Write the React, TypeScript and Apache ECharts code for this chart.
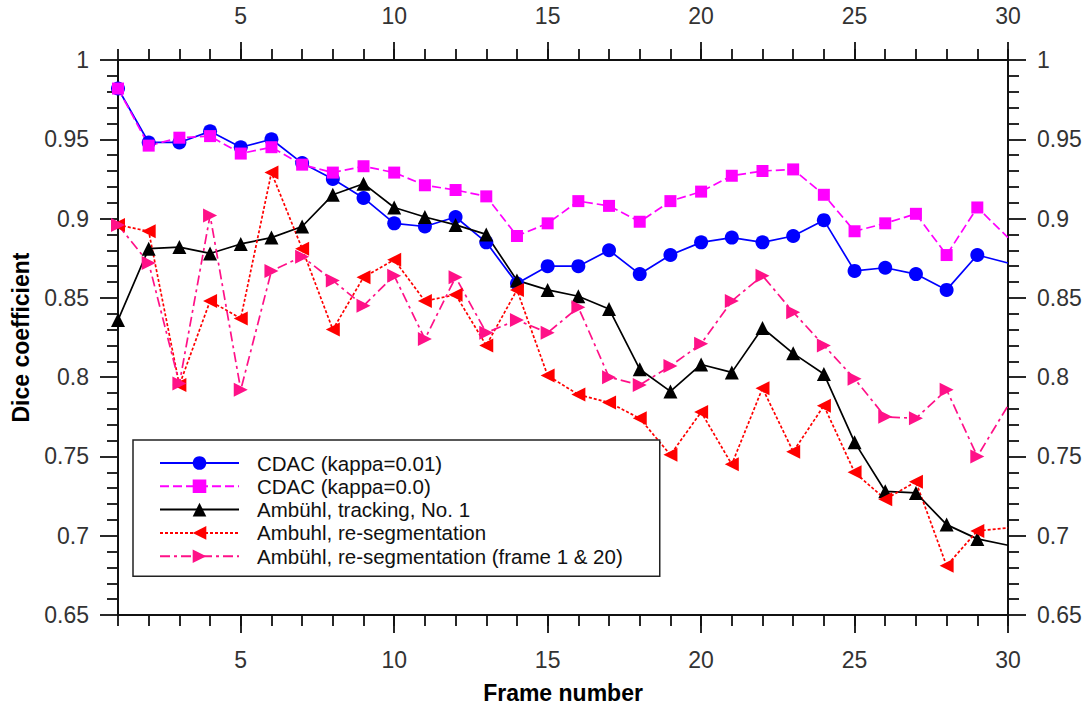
import React, { useEffect, useRef } from "react";
import * as echarts from "echarts";

const frames = [1, 2, 3, 4, 5, 6, 7, 8, 9, 10, 11, 12, 13, 14, 15, 16, 17, 18, 19, 20, 21, 22, 23, 24, 25, 26, 27, 28, 29, 30];
const majorX = [5, 10, 15, 20, 25, 30];

const cdac001 = [0.982, 0.948, 0.948, 0.955, 0.945, 0.950, 0.935, 0.925, 0.913, 0.897, 0.895, 0.901, 0.885, 0.859, 0.870, 0.870, 0.880, 0.865, 0.877, 0.885, 0.888, 0.885, 0.889, 0.899, 0.867, 0.869, 0.865, 0.855, 0.877, 0.872];
const cdac00 = [0.982, 0.946, 0.951, 0.952, 0.941, 0.945, 0.934, 0.929, 0.933, 0.929, 0.921, 0.918, 0.914, 0.889, 0.897, 0.911, 0.908, 0.898, 0.911, 0.917, 0.927, 0.930, 0.931, 0.915, 0.892, 0.897, 0.903, 0.877, 0.907, 0.888];
const tracking = [0.836, 0.881, 0.882, 0.878, 0.884, 0.888, 0.895, 0.915, 0.922, 0.907, 0.901, 0.896, 0.890, 0.861, 0.855, 0.851, 0.843, 0.805, 0.791, 0.808, 0.803, 0.831, 0.815, 0.802, 0.759, 0.728, 0.727, 0.707, 0.698, 0.694];
const reseg = [0.896, 0.892, 0.795, 0.848, 0.837, 0.929, 0.881, 0.830, 0.863, 0.874, 0.848, 0.852, 0.820, 0.855, 0.801, 0.789, 0.784, 0.774, 0.751, 0.778, 0.745, 0.793, 0.753, 0.782, 0.740, 0.723, 0.734, 0.681, 0.703, 0.705];
const reseg120 = [0.896, 0.872, 0.796, 0.902, 0.792, 0.867, 0.876, 0.861, 0.845, 0.864, 0.824, 0.863, 0.828, 0.836, 0.828, 0.844, 0.800, 0.795, 0.807, 0.821, 0.848, 0.864, 0.841, 0.820, 0.799, 0.775, 0.774, 0.792, 0.750, 0.782];

const names = [
  "CDAC (kappa=0.01)",
  "CDAC (kappa=0.0)",
  "Ambühl, tracking, No. 1",
  "Ambuhl, re-segmentation",
  "Ambühl, re-segmentation (frame 1 & 20)",
];

const FONT = "Arial, 'Liberation Sans', Helvetica, sans-serif";

function toData(vals: number[]) {
  return frames.map((f, i) =>
    i === frames.length - 1 ? { value: [f, vals[i]], symbol: "none" } : [f, vals[i]]
  );
}

export default function App() {
  const ref = useRef<HTMLDivElement>(null);
  useEffect(() => {
    if (!ref.current) return;
    const chart = echarts.init(ref.current, undefined, { renderer: "svg" });
    const axisLine = { show: true, lineStyle: { color: "#111", width: 2 } };
    const labelStyle = { fontSize: 23, color: "#333", fontFamily: FONT };
    const xMinor = (pos: string) => ({
      type: "value",
      position: pos,
      min: 1,
      max: 30,
      interval: 1,
      axisLine,
      axisTick: { show: true, inside: false, length: 11, lineStyle: { color: "#111", width: 1.8 } },
      axisLabel: { show: false },
      splitLine: { show: false },
    });
    const xMajor = (pos: string, extra: any = {}) => ({
      type: "value",
      position: pos,
      min: 1,
      max: 30,
      interval: 1,
      axisLine: { show: false },
      axisTick: { show: true, inside: false, length: 18, customValues: majorX, lineStyle: { color: "#111", width: 1.8 } },
      axisLabel: { show: true, customValues: majorX, margin: 33, ...labelStyle },
      splitLine: { show: false },
      ...extra,
    });
    const yAxis = (pos: string, extra: any = {}) => ({
      type: "value",
      position: pos,
      min: 0.65,
      max: 1,
      interval: 0.05,
      axisLine,
      axisTick: { show: true, inside: false, length: 18, lineStyle: { color: "#111", width: 1.8 } },
      minorTick: { show: true, splitNumber: 5, length: 11, lineStyle: { color: "#111", width: 1.8 } },
      axisLabel: { show: true, margin: 29, ...labelStyle },
      splitLine: { show: false },
      minorSplitLine: { show: false },
      ...extra,
    });
    const mk = (
      name: string,
      vals: number[],
      color: string,
      symbol: string,
      size: number,
      lineType: any,
      rotate = 0
    ) => ({
      type: "line",
      name,
      xAxisIndex: 0,
      yAxisIndex: 0,
      data: toData(vals),
      symbol,
      symbolSize: size,
      symbolRotate: rotate,
      showAllSymbol: true,
      itemStyle: { color, borderWidth: 0 },
      lineStyle: { color, width: 1.7, type: lineType },
      emphasis: { disabled: true },
    });
    chart.setOption({
      animation: false,
      backgroundColor: "#fff",
      grid: { left: 118, right: 80, top: 60, bottom: 88, containLabel: false },
      xAxis: [
        xMinor("bottom"),
        xMajor("bottom", {
          name: "Frame number",
          nameLocation: "middle",
          nameGap: 66,
          nameTextStyle: { fontSize: 23, fontWeight: "bold", color: "#000", fontFamily: FONT },
        }),
        xMinor("top"),
        xMajor("top"),
      ],
      yAxis: [
        yAxis("left", {
          name: "Dice coefficient",
          nameLocation: "middle",
          nameGap: 86,
          nameRotate: 90,
          nameTextStyle: { fontSize: 23, fontWeight: "bold", color: "#000", fontFamily: FONT },
        }),
        yAxis("right"),
      ],
      legend: {
        orient: "vertical",
        left: 133,
        top: 440,
        padding: [12.5, 37, 9.5, 26],
        itemWidth: 79,
        itemHeight: 17,
        itemGap: 2.3,
        borderColor: "#222",
        borderWidth: 1.5,
        backgroundColor: "#fff",
        align: "left",
        textStyle: { fontSize: 20.5, color: "#111", fontFamily: FONT, padding: [0, 0, 0, 13], lineHeight: 21 },
        data: names,
      },
      series: [
        mk(names[0], cdac001, "#0000ff", "circle", 14, "solid"),
        mk(names[1], cdac00, "#ff00ff", "rect", 12, [9, 4]),
        mk(names[2], tracking, "#000000", "triangle", 14, "solid"),
        mk(names[3], reseg, "#ff0000", "triangle", 14, [3, 2], 90),
        mk(names[4], reseg120, "#ff1188", "triangle", 14, [10, 4, 3, 4], -90),
      ],
    });
    return () => chart.dispose();
  }, []);
  return (
    <div
      ref={ref}
      style={{ position: "fixed", left: 0, top: 0, width: 1088, height: 709, background: "#fff" }}
    />
  );
}
